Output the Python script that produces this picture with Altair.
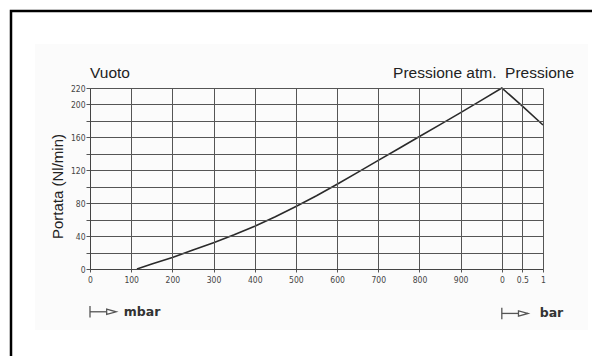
import altair as alt
import pandas as pd

# Curve: vacuum side in mbar (0..1000 on a shared axis), pressure side in bar (1000 + bar*100)
curve_x = [114, 150, 200, 250, 300, 350, 400, 450, 500, 550, 600, 650, 700, 750, 800, 850, 900, 950, 1000, 1050, 1100]
curve_y = [0, 6, 14, 23, 32, 41.5, 52, 63.5, 76, 89, 103, 117.5, 132, 146.5, 161, 175.5, 190, 205, 220, 198, 175]

x_tick_values = [0, 100, 200, 300, 400, 500, 600, 700, 800, 900, 1000, 1050, 1100]
x_tick_labels = ["0", "100", "200", "300", "400", "500", "600", "700", "800", "900", "0", "0.5", "1"]
y_tick_values = [0, 20, 40, 60, 80, 100, 120, 140, 160, 180, 200, 220]
y_tick_labels = ["0", "", "40", "", "80", "", "120", "", "160", "", "200", "220"]

top_labels = ["Vuoto", "Pressione atm.", "Pressione"]
top_x = [0, 987, 1008]
top_y = [238, 238, 238]
top_align = ["left", "right", "left"]

unit_labels = ["mbar", "bar"]
unit_start = [0, 1000]
unit_text_x = [82, 1092]
unit_y = [-52, -54]

FONT = "Liberation Sans"
TICKFONT = "Liberation Sans Narrow, DejaVu Sans Condensed, Liberation Sans"


def label_expr(vals, labs):
    expr = "''"
    for v, l in zip(reversed(vals), reversed(labs)):
        expr = f"datum.value == {v} ? '{l}' : ({expr})"
    return expr


xscale = alt.Scale(domain=[0, 1100], nice=False, zero=False)
yscale = alt.Scale(domain=[0, 220], nice=False)

curve_df = pd.DataFrame({"x": curve_x, "y": curve_y})

background = alt.Chart(pd.DataFrame({"a": [0]})).mark_rect(
    fill="#fbfbfb"
).encode(x=alt.value(-55), x2=alt.value(498), y=alt.value(-44), y2=alt.value(242))

border = alt.Chart(pd.DataFrame({"a": [0]})).mark_rect(
    fillOpacity=0, stroke="black", strokeWidth=2.5
).encode(x=alt.value(-79), x2=alt.value(700), y=alt.value(-77), y2=alt.value(500))

curve = alt.Chart(curve_df).mark_line(
    color="#2a2a2a", strokeWidth=1.6, interpolate="linear"
).encode(
    x=alt.X(
        "x:Q",
        scale=xscale,
        axis=alt.Axis(
            values=x_tick_values,
            tickCount=50,
            labelExpr=label_expr(x_tick_values, x_tick_labels),
            title=None,
            grid=True,
            gridColor="#555555",
            gridWidth=1,
            domainColor="#444444",
            tickColor="#555555",
            tickSize=3,
            labelFont=TICKFONT,
            labelFontSize=8.5,
            labelColor="#444444",
            labelPadding=3,
            labelOverlap=False,
            labelFlush=False,
            labelBound=False,
            zindex=1,
        ),
    ),
    y=alt.Y(
        "y:Q",
        scale=yscale,
        axis=alt.Axis(
            values=y_tick_values,
            tickCount=50,
            labelExpr=label_expr(y_tick_values, y_tick_labels),
            title="Portata (Nl/min)",
            titleFont=FONT,
            titleFontSize=15,
            titleFontWeight="normal",
            titleColor="#222222",
            titleX=-33,
            titleY=98,
            titleAngle=270,
            titleBaseline="middle",
            titleAlign="center",
            grid=True,
            gridColor="#555555",
            gridWidth=1,
            domainColor="#444444",
            tickColor="#555555",
            tickSize=4,
            labelFont=TICKFONT,
            labelFontSize=8.5,
            labelColor="#444444",
            labelPadding=1,
            labelOverlap=False,
            labelFlush=False,
            labelBound=False,
            zindex=1,
        ),
    ),
)

top_df = pd.DataFrame({"t": top_labels, "x": top_x, "y": top_y, "al": top_align})
top_left = alt.Chart(top_df[top_df.al == "left"]).mark_text(
    align="left", baseline="middle", font=FONT, fontSize=15.5, color="#222222"
).encode(x=alt.X("x:Q", scale=xscale), y=alt.Y("y:Q", scale=yscale), text="t:N")
top_right = alt.Chart(top_df[top_df.al == "right"]).mark_text(
    align="right", baseline="middle", font=FONT, fontSize=15.5, color="#222222"
).encode(x=alt.X("x:Q", scale=xscale), y=alt.Y("y:Q", scale=yscale), text="t:N")

unit_df = pd.DataFrame({
    "t": unit_labels,
    "x0": unit_start,
    "x1": [s + 40 for s in unit_start],
    "xa": [s + 52 for s in unit_start],
    "xt": unit_text_x,
    "y": unit_y,
    "ylo": [v - 7 for v in unit_y],
    "yhi": [v + 7 for v in unit_y],
})
bar_v = alt.Chart(unit_df).mark_rule(color="#555555", strokeWidth=1.3).encode(
    x=alt.X("x0:Q", scale=xscale), y=alt.Y("ylo:Q", scale=yscale), y2="yhi:Q"
)
bar_h = alt.Chart(unit_df).mark_rule(color="#555555", strokeWidth=1.3).encode(
    x=alt.X("x0:Q", scale=xscale), x2="x1:Q", y=alt.Y("y:Q", scale=yscale)
)
arrow = alt.Chart(unit_df).mark_point(
    shape="M-1,-0.55L1,0L-1,0.55Z", size=90, filled=False, color="#555555",
    fill="white", fillOpacity=1, strokeWidth=1.3
).encode(x=alt.X("xa:Q", scale=xscale), y=alt.Y("y:Q", scale=yscale))
unit_text = alt.Chart(unit_df).mark_text(
    align="left", baseline="middle", font="DejaVu Sans", fontSize=12.5,
    fontWeight="bold", color="#333333"
).encode(x=alt.X("xt:Q", scale=xscale), y=alt.Y("y:Q", scale=yscale), text="t:N")

chart = alt.layer(
    background, curve, top_left, top_right, bar_v, bar_h, arrow, unit_text, border
).properties(
    width=453,
    height=181,
    autosize=alt.AutoSizeParams(type="none"),
    padding={"left": 82, "top": 80, "right": 49, "bottom": 87},
    background="white",
).configure_view(strokeWidth=0)

chart.save("out.html", embed_options={"renderer": "svg", "actions": False})
